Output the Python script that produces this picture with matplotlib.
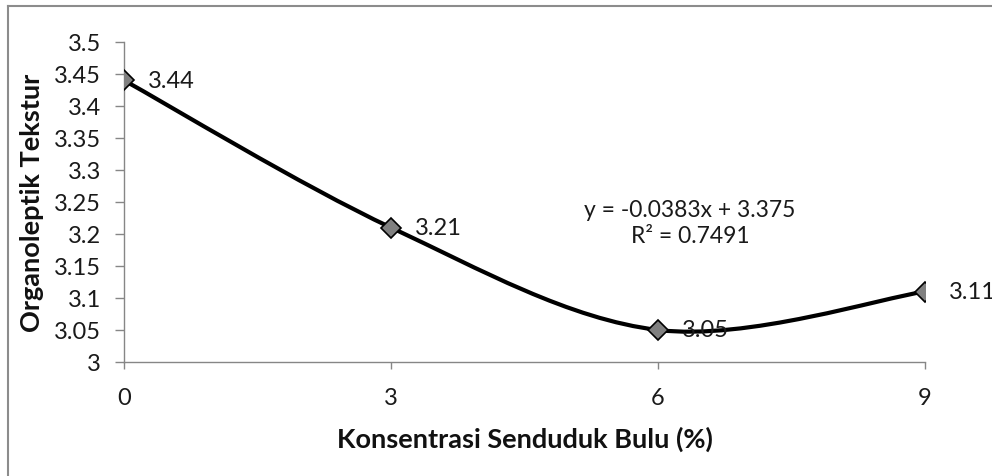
import matplotlib
matplotlib.use("Agg")
import matplotlib.pyplot as plt
import numpy as np
from matplotlib.path import Path
from matplotlib.patches import PathPatch
from matplotlib.lines import Line2D

# data
konsentrasi = [0, 3, 6, 9]
tekstur = [3.44, 3.21, 3.05, 3.11]
y_ticks = [3.0, 3.05, 3.1, 3.15, 3.2, 3.25, 3.3, 3.35, 3.4, 3.45, 3.5]
x_ticks = [0, 3, 6, 9]
trend_text = "y = -0.0383x + 3.375\nR² = 0.7491"

plt.rcParams["font.family"] = ["Lato", "DejaVu Sans"]

fig = plt.figure(figsize=(9.92, 4.77), dpi=100)
ax = fig.add_axes([0.125, 0.239, 0.8075, 0.671])

# Excel-style smoothed line (Catmull-Rom bezier)
pts = np.column_stack([konsentrasi, tekstur]).astype(float)
verts = [pts[0]]
codes = [Path.MOVETO]
n = len(pts)
for i in range(n - 1):
    p0 = pts[max(i - 1, 0)]
    p1 = pts[i]
    p2 = pts[i + 1]
    p3 = pts[min(i + 2, n - 1)]
    verts += [p1 + (p2 - p0) / 6, p2 - (p3 - p1) / 6, p2]
    codes += [Path.CURVE4] * 3
ax.add_patch(PathPatch(Path(verts, codes), fill=False, edgecolor="black",
                       lw=3.0, capstyle="round", joinstyle="round", zorder=3))

ax.plot(konsentrasi, tekstur, linestyle="none", marker="D", markersize=10.5,
        markerfacecolor="#808080", markeredgecolor="black",
        markeredgewidth=1.2, zorder=4)

for xv, yv in zip(konsentrasi, tekstur):
    ax.annotate(f"{yv:g}", (xv, yv), xytext=(17, 0), textcoords="offset points",
                ha="left", va="center", fontsize=17, color="#1a1a1a",
                annotation_clip=False, zorder=5)

ax.text(6.36, 3.218, trend_text, ha="center", va="center", fontsize=16.5,
        color="#1a1a1a", linespacing=1.3)

ax.set_xlim(0, 9)
ax.set_ylim(3.0, 3.5)
ax.set_xticks(x_ticks)
ax.set_xticklabels([f"{v:g}" for v in x_ticks])
ax.set_yticks(y_ticks)
ax.set_yticklabels([f"{v:g}" for v in y_ticks])

for side in ("top", "right"):
    ax.spines[side].set_visible(False)
for side in ("left", "bottom"):
    ax.spines[side].set_color("#868686")
    ax.spines[side].set_linewidth(1.0)
ax.tick_params(axis="y", direction="out", length=6.5, width=1.0,
               color="#868686", pad=10, labelsize=17, labelcolor="#1a1a1a")
ax.tick_params(axis="x", direction="out", length=5, width=1.0,
               color="#868686", pad=13, labelsize=17, labelcolor="#1a1a1a")

ax.set_ylabel("Organoleptik Tekstur", fontsize=19.5, fontweight="bold",
              color="#111111", labelpad=7)
ax.set_xlabel("Konsentrasi Senduduk Bulu (%)", fontsize=19.5, fontweight="bold",
              color="#111111", labelpad=13)

# chart-area border (left and top visible)
fig.add_artist(Line2D([8 / 992, 8 / 992], [0, 1 - 7 / 477],
                      transform=fig.transFigure, color="#8c8c8c", lw=1.5))
fig.add_artist(Line2D([8 / 992, 1], [1 - 7 / 477, 1 - 7 / 477],
                      transform=fig.transFigure, color="#8c8c8c", lw=1.5))

fig.savefig("out.png", dpi=100)
